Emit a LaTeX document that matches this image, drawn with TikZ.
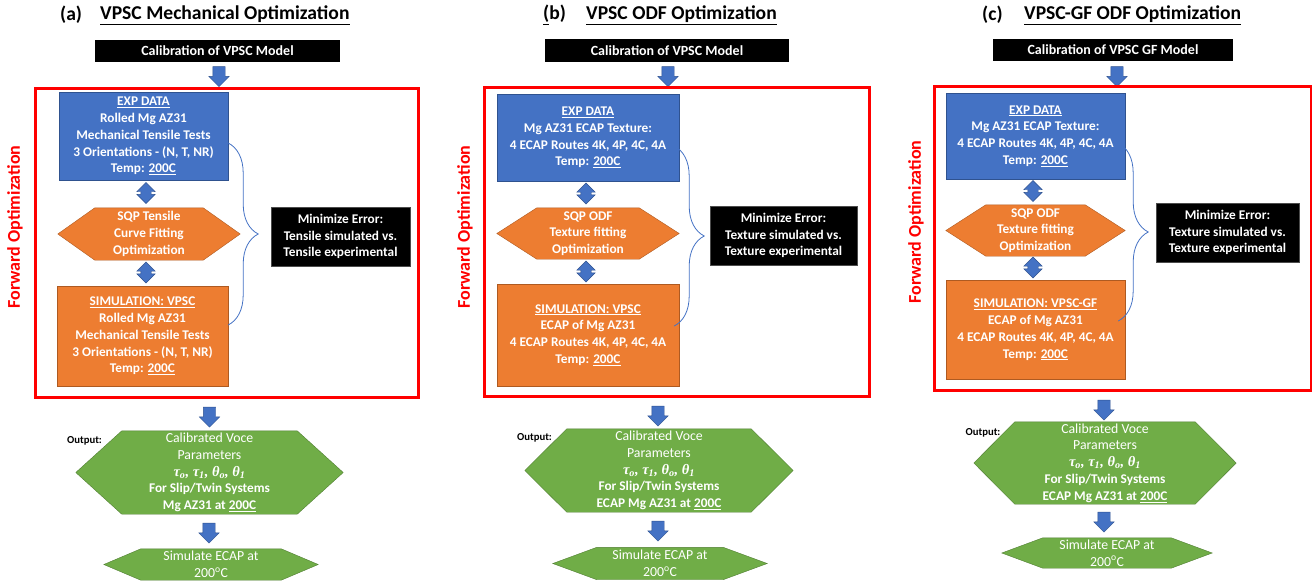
\documentclass[tikz,border=0pt]{standalone}
\usepackage{fontspec}
\setmainfont{Carlito}
\newfontfamily\greekserif{Liberation Serif}
\usetikzlibrary{shapes.arrows,decorations.pathreplacing,backgrounds}
\definecolor{offblue}{HTML}{4472C4}
\definecolor{offblueline}{HTML}{2F528F}
\definecolor{offorange}{HTML}{ED7D31}
\definecolor{offorangeline}{HTML}{AE5A21}
\definecolor{offgreen}{HTML}{70AD47}
\definecolor{offgreenline}{HTML}{507E32}
\definecolor{offred}{HTML}{FF0000}
% hexagon behind a text node: node, corner cut, style
\newcommand{\hexback}[3]{%
  \begin{scope}[on background layer]
    \draw[#3] (#1.west) -- ([xshift=#2]#1.north west) -- ([xshift=-#2]#1.north east)
      -- (#1.east) -- ([xshift=-#2]#1.south east) -- ([xshift=#2]#1.south west) -- cycle;
  \end{scope}}
\newcommand{\plaintext}{\mdseries\fontsize{13.8}{16.8}\selectfont}
\newcommand{\voceparams}{{\greekserif\bfseries\itshape\fontsize{14.5}{16.8}\selectfont τ\textsubscript{o}, τ\textsubscript{1}, θ\textsubscript{o}, θ\textsubscript{1}}}
\begin{document}
\begin{tikzpicture}[x=1pt,y=-1pt]
    \tikzstyle{every node}+=[inner sep=0pt, align=center, font=\fontsize{13.3}{16.8}\selectfont\bfseries]
    \tikzstyle{paneltitle}=[anchor=west, font=\fontsize{19.6}{22}\selectfont\bfseries]
    \tikzstyle{calbox}=[fill=black, text=white, font=\fontsize{14}{16}\selectfont\bfseries]
    \tikzstyle{expbox}=[fill=offblue, draw=offblueline, text=white]
    \tikzstyle{simbox}=[fill=offorange, draw=offorangeline, text=white]
    \tikzstyle{hexlabel}=[text=white]
    \tikzstyle{sqpfill}=[fill=offorange, draw=offorangeline]
    \tikzstyle{outfill}=[fill=offgreen, draw=offgreenline]
    \tikzstyle{errbox}=[fill=black, draw=black!70, text=white]
    \tikzstyle{frame}=[draw=offred, line width=3pt]
    \tikzstyle{fwdlabel}=[rotate=90, text=offred, font=\fontsize{18}{20}\selectfont\bfseries]
    \tikzstyle{outlabel}=[font=\fontsize{10.7}{12}\selectfont\bfseries]
    \tikzstyle{downarrow}=[single arrow, rotate=-90, fill=offblue, draw=offblueline, minimum height=20pt, single arrow head extend=4pt]
    \tikzstyle{updown}=[double arrow, rotate=90, fill=offblue, draw=offblueline, minimum height=21pt, double arrow head extend=4pt]
    \tikzstyle{errbrace}=[draw=offblue, line width=0.8pt, decorate, decoration={brace, amplitude=30pt}]
    \useasboundingbox (0,0) rectangle (1312,581);

    % (a) mechanical
    \node[paneltitle] (taga) at (60,15) {(a)};
    \node[paneltitle] (titlea) at (100,15) {\underline{VPSC Mechanical Optimization}};
    \node[calbox, minimum width=245pt, minimum height=22pt] (calba) at (217.5,51) {Calibration of VPSC Model};
    \node[downarrow] (arra1) at (219,73.5) {\rule{0pt}{12pt}};
    \node[frame, minimum width=383pt, minimum height=309pt] (frma) at (226.5,242.5) {};
    \node[fwdlabel] (fwda) at (15,227) {Forward Optimization};
    \node[expbox, minimum width=169pt, minimum height=88pt] (expa) at (143.5,136) {\underline{EXP DATA}\\Rolled Mg AZ31\\Mechanical Tensile Tests\\3 Orientations - (N, T, NR)\\Temp: \underline{200C}};
    \node[updown] (dbla1) at (146,193) {\rule{0pt}{10pt}};
    \node[hexlabel, minimum width=182pt, minimum height=52pt] (sqpa) at (149,234) {SQP Tensile\\Curve Fitting\\Optimization};
    \hexback{sqpa}{37pt}{sqpfill}
    \node[updown] (dbla2) at (146,272.5) {\rule{0pt}{10pt}};
    \node[simbox, minimum width=171pt, minimum height=100pt] (sima) at (142.5,336) {\underline{SIMULATION: VPSC}\\Rolled Mg AZ31\\Mechanical Tensile Tests\\3 Orientations - (N, T, NR)\\Temp: \underline{200C}};
    \node[errbox, minimum width=139pt, minimum height=59pt] (erra) at (340.5,236.5) {Minimize Error:\\Tensile simulated vs.\\Tensile experimental};
    \draw[errbrace] ([yshift=-7pt]expa.east) -- ([yshift=11pt]sima.east);
    \node[downarrow] (arra2) at (209.5,414) {\rule{0pt}{12pt}};
    \node[outlabel] (outa) at (84.5,441) {Output:};
    \node[hexlabel, minimum width=267pt, minimum height=83pt] (voca) at (209.5,472.5) {\plaintext Calibrated Voce\\ \plaintext Parameters\\ \voceparams\\For Slip/Twin Systems\\Mg AZ31 at \underline{200C}};
    \hexback{voca}{46pt}{outfill}
    \node[downarrow] (arra3) at (209,530) {\rule{0pt}{12pt}};
    \node[hexlabel, minimum width=214pt, minimum height=31pt] (ecapa) at (211,564.5) {\plaintext Simulate ECAP at\\ \plaintext 200\textsuperscript{o}C};
    \hexback{ecapa}{37pt}{outfill}

    % (b) ODF
    \node[paneltitle] (tagb) at (543,15) {\underline{(}b)};
    \node[paneltitle] (titleb) at (586,15) {\underline{VPSC ODF Optimization}};
    \node[calbox, minimum width=244pt, minimum height=23pt] (calbb) at (667,50.5) {Calibration of VPSC Model};
    \node[downarrow] (arrb1) at (668,73.5) {\rule{0pt}{12pt}};
    \node[frame, minimum width=385pt, minimum height=309pt] (frmb) at (676.5,241.5) {};
    \node[fwdlabel] (fwdb) at (465,227) {Forward Optimization};
    \node[expbox, minimum width=182pt, minimum height=87pt] (expb) at (588,137.5) {\underline{EXP DATA}\\Mg AZ31 ECAP Texture:\\4 ECAP Routes 4K, 4P, 4C, 4A\\Temp: \underline{200C}};
    \node[updown] (dblb1) at (586,193.5) {\rule{0pt}{10pt}};
    \node[hexlabel, minimum width=182pt, minimum height=51pt] (sqpb) at (588,233.5) {SQP ODF\\Texture fitting\\Optimization};
    \hexback{sqpb}{40pt}{sqpfill}
    \node[updown] (dblb2) at (586,271.5) {\rule{0pt}{10pt}};
    \node[simbox, minimum width=182pt, minimum height=102pt] (simb) at (588,335) {\underline{SIMULATION: VPSC}\\ECAP of Mg AZ31\\4 ECAP Routes 4K, 4P, 4C, 4A\\Temp: \underline{200C}};
    \node[errbox, minimum width=147pt, minimum height=59pt] (errb) at (783.5,235.5) {Minimize Error:\\Texture simulated vs.\\Texture experimental};
    \draw[errbrace] ([xshift=-5pt,yshift=-8.5pt]expb.east) -- ([xshift=-5pt,yshift=9pt]simb.east);
    \node[downarrow] (arrb2) at (658,413) {\rule{0pt}{12pt}};
    \node[outlabel] (outb) at (534.5,438) {Output:};
    \node[hexlabel, minimum width=268pt, minimum height=83pt] (vocb) at (659,470.5) {\plaintext Calibrated Voce\\ \plaintext Parameters\\ \voceparams\\For Slip/Twin Systems\\ECAP Mg AZ31 at \underline{200C}};
    \hexback{vocb}{42pt}{outfill}
    \node[downarrow] (arrb3) at (658,528) {\rule{0pt}{12pt}};
    \node[hexlabel, minimum width=214pt, minimum height=32pt] (ecapb) at (660,563.5) {\plaintext Simulate ECAP at\\ \plaintext 200\textsuperscript{o}C};
    \hexback{ecapb}{44pt}{outfill}

    % (c) GF ODF
    \node[paneltitle] (tagc) at (982,15) {(c)};
    \node[paneltitle] (titlec) at (1024,15) {\underline{VPSC-GF ODF Optimization}};
    \node[calbox, minimum width=240pt, minimum height=22pt] (calbc) at (1113,50) {Calibration of VPSC GF Model};
    \node[downarrow] (arrc1) at (1117,73.5) {\rule{0pt}{12pt}};
    \node[frame, minimum width=377pt, minimum height=304pt] (frmc) at (1122.5,238) {};
    \node[fwdlabel] (fwdc) at (916,222) {Forward Optimization};
    \node[expbox, minimum width=179pt, minimum height=86pt] (expc) at (1035.5,136) {\underline{EXP DATA}\\Mg AZ31 ECAP Texture:\\4 ECAP Routes 4K, 4P, 4C, 4A\\Temp: \underline{200C}};
    \node[updown] (dblc1) at (1033,191) {\rule{0pt}{10pt}};
    \node[hexlabel, minimum width=179pt, minimum height=51pt] (sqpc) at (1035.5,230.5) {SQP ODF\\Texture fitting\\Optimization};
    \hexback{sqpc}{40pt}{sqpfill}
    \node[updown] (dblc2) at (1033,267.5) {\rule{0pt}{10pt}};
    \node[simbox, minimum width=179pt, minimum height=99pt] (simc) at (1035.5,329.5) {\underline{SIMULATION: VPSC-GF}\\ECAP of Mg AZ31\\4 ECAP Routes 4K, 4P, 4C, 4A\\Temp: \underline{200C}};
    \node[errbox, minimum width=143pt, minimum height=59pt] (errc) at (1227.5,232.5) {Minimize Error:\\Texture simulated vs.\\Texture experimental};
    \draw[errbrace] ([xshift=-7pt,yshift=-7pt]expc.east) -- ([xshift=-7pt,yshift=8.5pt]simc.east);
    \node[downarrow] (arrc2) at (1104,407) {\rule{0pt}{12pt}};
    \node[outlabel] (outc) at (983,433) {Output:};
    \node[hexlabel, minimum width=262pt, minimum height=82pt] (vocc) at (1105,463) {\plaintext Calibrated Voce\\ \plaintext Parameters\\ \voceparams\\For Slip/Twin Systems\\ECAP Mg AZ31 at \underline{200C}};
    \hexback{vocc}{41pt}{outfill}
    \node[downarrow] (arrc3) at (1104,519) {\rule{0pt}{12pt}};
    \node[hexlabel, minimum width=210pt, minimum height=30pt] (ecapc) at (1107,553) {\plaintext Simulate ECAP at\\ \plaintext 200\textsuperscript{o}C};
    \hexback{ecapc}{41pt}{outfill}
\end{tikzpicture}
\end{document}
